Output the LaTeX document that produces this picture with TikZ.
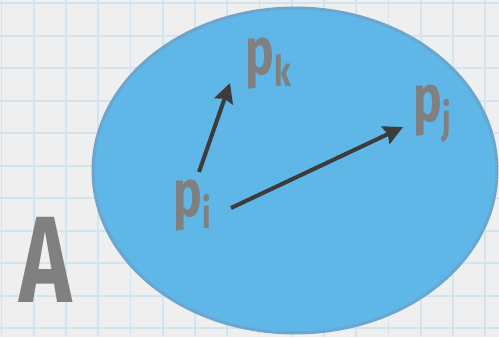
\documentclass[tikz,border=0pt]{standalone}
\usepackage{fontspec}
\usepackage{graphicx}
\setmainfont{Fira Sans}
\newfontfamily\handfont{Fira Sans}[FakeStretch=0.72]
\usepackage{tikz}
\usetikzlibrary{arrows.meta,positioning}
\definecolor{paper}{RGB}{239,239,239}
\definecolor{gridblue}{RGB}{210,228,239}
\definecolor{setblue}{RGB}{88,180,232}
\definecolor{setedge}{RGB}{106,166,206}
\definecolor{labelgray}{RGB}{128,128,128}
\definecolor{vecgray}{RGB}{60,60,60}

% point label with a lowered index
\newcommand{\pnt}[1]{p\raisebox{-7pt}{\fontsize{24}{24}\selectfont #1}}

\begin{document}
\begin{tikzpicture}[
  ptlabel/.style={inner sep=0pt, anchor=base west, text=labelgray,
                  font=\handfont\bfseries\fontsize{38}{38}\selectfont},
  vec/.style={-{Stealth[length=11pt, width=11pt, inset=1.5pt]}, vecgray,
              line width=2.3pt}
]
\useasboundingbox (0,0) rectangle (9.98,6.74);

% --- Squared paper ---
\fill[paper] (0,0) rectangle (9.98,6.74);
\foreach \i in {0,...,15}
  \draw[gridblue, line width=1pt] (0.03+0.645*\i,0) -- (0.03+0.645*\i,6.74);
\foreach \j in {0,...,10}
  \draw[gridblue, line width=1pt] (0,6.674-0.65*\j) -- (9.98,6.674-0.65*\j);

% --- The set ---
\draw[setedge, line width=1.7pt, fill=setblue, fill opacity=0.95]
  (5.90,3.33) ellipse (4.04cm and 3.25cm);

% --- Points ---
\node[ptlabel] (pi) at (3.46,2.42) {\pnt{i}};
\node[ptlabel] (pk) at (4.90,5.26) {\pnt{k}};
\node[ptlabel] (pj) at (8.26,4.32) {\pnt{j}};

% Vectors from p_i
\draw[vec] ([shift={(0.52,0.88)}]pi.base west) -- ([shift={(-0.30,-0.18)}]pk.base west);
\draw[vec] ([shift={(1.16,0.16)}]pi.base west) -- ([shift={(-0.20,-0.12)}]pj.base west);

% --- Set name ---
\node[inner sep=0pt, anchor=base, text=labelgray,
      font=\handfont\bfseries\fontsize{70}{70}\selectfont] (setA) at (0.92,0.70) {A};

\end{tikzpicture}
\end{document}
